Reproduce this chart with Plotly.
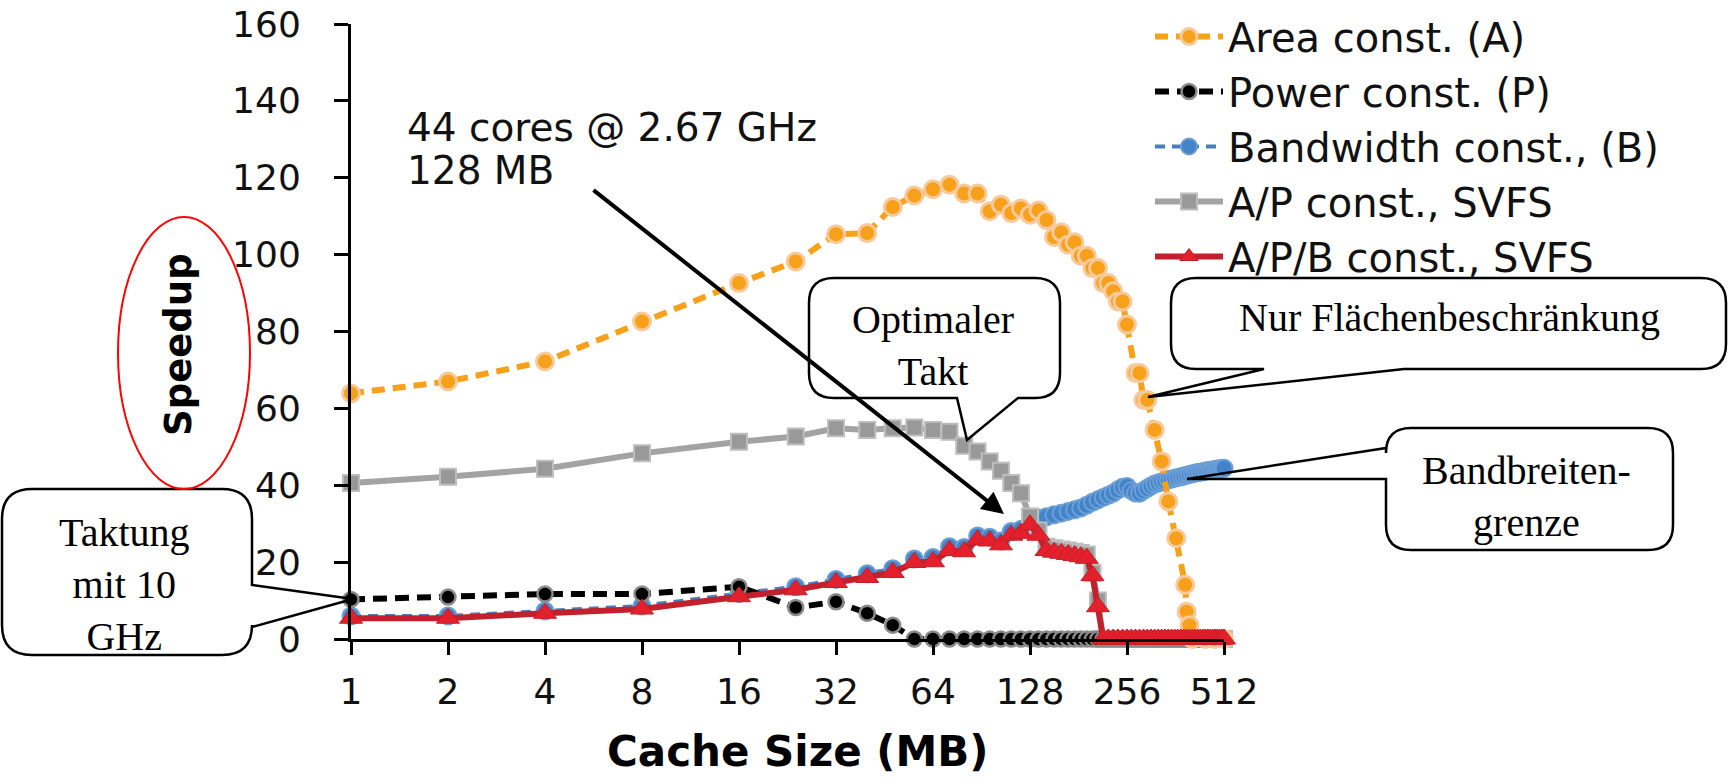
import math
import plotly.graph_objects as go

# ------------------------------------------------------------------ data
CACHE_MB = [1, 2, 4, 8, 16, 24, 32, 40, 48, 56, 64, 72, 80, 88, 96, 104, 112, 120, 128,
            136, 144, 152, 160, 168, 176, 184, 192, 200, 208, 216, 224, 232, 240, 248, 256,
            264, 272, 280, 288, 296, 304, 312, 320, 328, 336, 344, 352, 360, 368, 376, 384,
            392, 400, 408, 416, 424, 432, 440, 448, 456, 464, 472, 480, 488, 496, 504, 512]

POWER_CONST = [10.3, 10.9, 11.7, 11.7, 13.6, 8.2, 9.7, 6.7, 3.6, 0, 0, 0, 0, 0, 0, 0, 0, 0, 0,
               0, 0, 0, 0, 0, 0, 0, 0, 0, 0, 0, 0, 0, 0, 0, 0,
               0, 0, 0, 0, 0, 0, 0, 0, 0, 0, 0, 0, 0, 0, 0, 0,
               0, 0, 0, 0, 0, 0, 0, 0, 0, 0, 0, 0, 0, 0, 0, 0]

BANDWIDTH_CONST = [6.0, 6.0, 7.3, 8.6, 11.8, 13.6, 15.5, 17.0, 18.3, 20.8, 21.2, 24.0, 23.8, 26.8,
                   26.5, 25.5, 28.0, 28.5, 30.6,
                   31.4, 31.8, 32.3, 32.7, 33.2, 33.6, 34.1, 34.8, 35.6, 36.2, 36.8, 37.4, 38.0,
                   38.8, 39.5, 39.7,
                   38.6, 38.0, 37.9, 38.6, 39.2, 39.8, 40.3, 40.6, 40.9, 41.1, 41.4, 41.6, 41.8,
                   42.0, 42.2, 42.4,
                   42.6, 42.8, 43.0, 43.1, 43.3, 43.4, 43.5, 43.7, 43.8, 43.9, 44.0, 44.1, 44.2,
                   44.3, 44.35, 44.4]

AP_SVFS = [40.6, 42.2, 44.3, 48.3, 51.3, 52.7, 54.8, 54.4, 54.8, 55.0, 54.4, 53.9, 50.3, 48.8,
           46.2, 43.8, 40.6, 37.9, 31.9,
           28.2, 24.0, 23.6, 23.3, 23.0, 22.7, 22.4, 22.0, 17.2, 10.0, 0, 0, 0, 0, 0, 0,
           0, 0, 0, 0, 0, 0, 0, 0, 0, 0, 0, 0, 0, 0, 0, 0,
           0, 0, 0, 0, 0, 0, 0, 0, 0, 0, 0, 0, 0, 0, 0, 0]

APB_SVFS = [5.4, 5.4, 6.7, 7.8, 11.0, 12.8, 14.7, 16.0, 17.3, 19.9, 20.1, 23.0, 22.7, 25.8,
            25.5, 24.5, 27.0, 27.5, 29.7,
            27.0, 23.0, 22.6, 22.3, 22.0, 21.7, 21.4, 21.0, 16.5, 8.4, 0, 0, 0, 0, 0, 0,
            0, 0, 0, 0, 0, 0, 0, 0, 0, 0, 0, 0, 0, 0, 0, 0,
            0, 0, 0, 0, 0, 0, 0, 0, 0, 0, 0, 0, 0, 0, 0, 0]

AREA_MB = [1, 2, 4, 8, 16, 24, 32, 40, 48, 56, 64, 72, 80, 88, 96, 104, 112, 120, 128, 136,
           144, 152, 160, 168, 176, 184, 192, 200, 208, 216, 224, 232, 240, 248,
           256, 272, 280, 288, 296, 312, 328, 344, 364, 388, 392, 400, 408, 448, 480, 512]
AREA_CONST = [63.9, 67.0, 72.2, 82.6, 92.6, 98.2, 105.3, 105.6, 112.4, 115.4, 117.0, 118.2,
              115.9, 115.9, 111.3, 113.0, 110.8, 112.0, 110.4, 111.5, 109.0, 104.6, 105.8,
              102.6, 103.2, 99.7, 99.7, 96.5, 96.5, 92.6, 92.6, 90.5, 87.8, 87.8,
              81.8, 69.2, 69.2, 62.2, 62.2, 54.4, 46.2, 35.8, 26.2, 14.1, 7.1, 3.6, 0, 0, 0, 0]

X_TICKS = [1, 2, 4, 8, 16, 32, 64, 128, 256, 512]
X_TICK_TEXT = ["1", "2", "4", "8", "16", "32", "64", "128", "256", "512"]
Y_TICKS = [0, 20, 40, 60, 80, 100, 120, 140, 160]

# ------------------------------------------------------------------ layout helpers
W, H = 1728, 781
PL, PR, PT, PB = 351, 1224, 24, 639       # plot area (pixels)


def fx(px):
    return (px - PL) / (PR - PL)


def fy(py):
    return (PB - py) / (PB - PT)


def P(px, py):
    return f"{fx(px):.5f},{fy(py):.5f}"


def callout(x0, y0, x1, y1, r, side, b1, b2, tip):
    tx, ty = tip
    d = f"M {P(x0 + r, y0)}"
    if side == "top":
        d += f" L {P(b1, y0)} L {P(tx, ty)} L {P(b2, y0)}"
    d += f" L {P(x1 - r, y0)} Q {P(x1, y0)} {P(x1, y0 + r)}"
    if side == "right":
        d += f" L {P(x1, b1)} L {P(tx, ty)} L {P(x1, b2)}"
    d += f" L {P(x1, y1 - r)} Q {P(x1, y1)} {P(x1 - r, y1)}"
    if side == "bottom":
        d += f" L {P(b2, y1)} L {P(tx, ty)} L {P(b1, y1)}"
    d += f" L {P(x0 + r, y1)} Q {P(x0, y1)} {P(x0, y1 - r)}"
    if side == "left":
        d += f" L {P(x0, b2)} L {P(tx, ty)} L {P(x0, b1)}"
    d += f" L {P(x0, y0 + r)} Q {P(x0, y0)} {P(x0 + r, y0)} Z"
    return d


fig = go.Figure()


def add(name, x, y, lcolor, dash, lw, symbol, msize, mcolor, mline, mlw, rank):
    fig.add_trace(go.Scatter(
        x=x, y=y, name=name, mode="lines+markers",
        line=dict(color=lcolor, width=lw, dash=dash),
        marker=dict(symbol=symbol, size=msize, color=mcolor,
                    line=dict(color=mline, width=mlw)),
        legendrank=rank, legendgroup=name, cliponaxis=False))


# drawing order (bottom -> top)
add("Bandwidth const., (B)", CACHE_MB, BANDWIDTH_CONST, "#4a7ebb", "10px,7px", 4,
    "circle", 17, "#4383c8", "#6b9fd6", 2, 3)
add("A/P const., SVFS", CACHE_MB, AP_SVFS, "#a3a3a3", "solid", 6,
    "square", 16, "#999999", "#bdbdbd", 2, 4)
add("Power const. (P)", CACHE_MB, POWER_CONST, "#000000", "14px,8px", 6,
    "circle", 15, "#000000", "#8a8a8a", 2.5, 2)
add("Area const. (A)", AREA_MB, AREA_CONST, "#f7a11a", "13px,8px", 6,
    "circle", 17, "#f7a11a", "#f8c99b", 3, 1)
add("A/P/B const., SVFS", CACHE_MB, APB_SVFS, "#c0212c", "solid", 6,
    "triangle-up", 20, "#e3202b", "#c42029", 1, 5)

axis_font = dict(family="DejaVu Sans", size=36, color="#111111")

fig.update_layout(
    width=W, height=H,
    margin=dict(l=PL, r=W - PR, t=PT, b=H - PB, autoexpand=False),
    paper_bgcolor="white", plot_bgcolor="white",
    showlegend=True,
    legend=dict(x=fx(1150), y=fy(4), xanchor="left", yanchor="top",
                font=dict(family="DejaVu Sans", size=40, color="#111111"),
                itemwidth=68, tracegroupgap=0, traceorder="grouped",
                bgcolor="rgba(0,0,0,0)"),
    xaxis=dict(type="log", range=[0, math.log10(512)], tickvals=X_TICKS,
               ticktext=X_TICK_TEXT, showgrid=False, zeroline=False, showline=True,
               linecolor="black", linewidth=3, ticks="outside", ticklen=13, tickwidth=3,
               tickcolor="black", tickfont=axis_font, ticklabelstandoff=6),
    yaxis=dict(range=[0, 160], tickvals=Y_TICKS, showgrid=False, zeroline=False,
               showline=True, linecolor="black", linewidth=3, ticks="outside",
               ticklen=14, tickwidth=3, tickcolor="black", tickfont=axis_font,
               ticklabelstandoff=26),
)

serif = dict(family="Liberation Serif", size=40, color="black")
annotations = [
    dict(text="<b>Speedup</b>", x=fx(178), y=fy(345), textangle=-90,
         font=dict(family="DejaVu Sans", size=37, color="black")),
    dict(text="<b>Cache Size (MB)</b>", x=fx(797), y=fy(751),
         font=dict(family="DejaVu Sans", size=42, color="black")),
    dict(text="44 cores @ 2.67 GHz", x=fx(405), y=fy(128), xanchor="left",
         font=dict(family="DejaVu Sans", size=39, color="#111111")),
    dict(text="128 MB", x=fx(405), y=fy(170), xanchor="left",
         font=dict(family="DejaVu Sans", size=39, color="#111111")),
    dict(text="", x=fx(1004), y=fy(514), showarrow=True, ax=592 - 1004, ay=189 - 514,
         arrowhead=2, arrowsize=1.1, arrowwidth=4, arrowcolor="black"),
    dict(text="Taktung<br>mit 10<br>GHz", x=fx(125), y=fy(584), font=serif),
    dict(text="Optimaler<br>Takt", x=fx(933), y=fy(345), font=serif),
    dict(text="Nur Flächenbeschränkung", x=fx(1449), y=fy(317), font=serif),
    dict(text="Bandbreiten-<br>grenze", x=fx(1526), y=fy(497), font=serif),
]
for a in annotations:
    a.setdefault("xref", "paper")
    a.setdefault("yref", "paper")
    a.setdefault("showarrow", False)
    a.setdefault("xanchor", "center")
    a.setdefault("yanchor", "middle")
    fig.add_annotation(**a)

box_line = dict(color="black", width=2.5)
fig.add_shape(type="path", xref="paper", yref="paper", layer="above", line=box_line,
              path=callout(2, 489, 252, 655, 30, "right", 585, 627, (353, 599)))
fig.add_shape(type="path", xref="paper", yref="paper", layer="above", line=box_line,
              path=callout(809, 278, 1060, 398, 25, "bottom", 957, 1018, (967, 440)))
fig.add_shape(type="path", xref="paper", yref="paper", layer="above", line=box_line,
              path=callout(1171, 278, 1726, 369, 25, "bottom", 1264, 1404, (1148, 397)))
fig.add_shape(type="path", xref="paper", yref="paper", layer="above", line=box_line,
              path=callout(1386, 428, 1673, 550, 25, "left", 448, 479, (1187, 479)))
fig.add_shape(type="circle", xref="paper", yref="paper", layer="above",
              x0=fx(118), x1=fx(250), y0=fy(489), y1=fy(217),
              line=dict(color="#ff0000", width=2))

fig.write_html("out.html")
